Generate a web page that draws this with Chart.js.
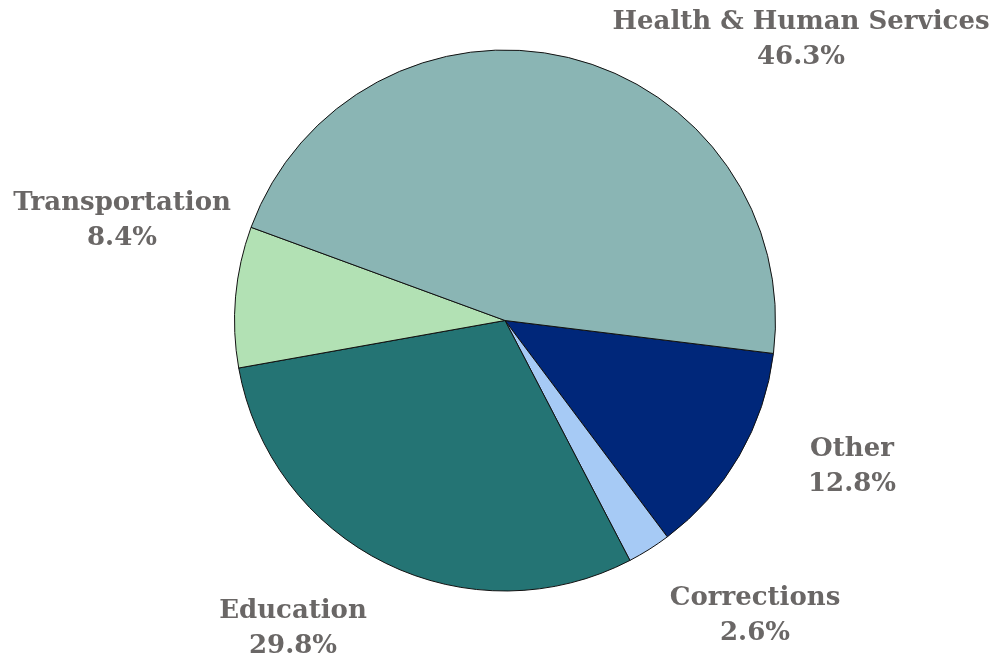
<!DOCTYPE html>
<html>
<head>
<meta charset="utf-8">
<script src="https://cdn.jsdelivr.net/npm/chart.js@4"></script>
<style>
  html, body { margin: 0; padding: 0; background: #fff; }
  #wrap { width: 996px; height: 660px; }
</style>
</head>
<body>
<div id="wrap"><canvas id="pieChart" width="996" height="660"></canvas></div>
<script>
// slices, clockwise starting just below 3 o'clock
const categories = ["Other", "Corrections", "Education", "Transportation", "Health & Human Services"];
const shares = [12.8, 2.6, 29.8, 8.4, 46.3];
const valueLabels = ["12.8%", "2.6%", "29.8%", "8.4%", "46.3%"];
const sliceColors = ["#00277a", "#a6caf5", "#247474", "#b2e1b4", "#8ab5b4"];

// where each label block sits (centre x, middle of first line)
const labelAnchors = [
    { x: 852, y: 449 },
    { x: 755, y: 598 },
    { x: 293, y: 611 },
    { x: 122, y: 203 },
    { x: 801, y: 22 }
];

const outsideLabels = {
    id: "outsideLabels",
    afterDraw(chart) {
        const ctx = chart.ctx;
        ctx.save();
        ctx.fillStyle = "#6a6766";
        ctx.font = "bold 26px 'DejaVu Serif', Georgia, serif";
        ctx.textAlign = "center";
        ctx.textBaseline = "middle";
        categories.forEach((name, i) => {
            const a = labelAnchors[i];
            ctx.fillText(name, a.x, a.y);
            ctx.fillText(valueLabels[i], a.x, a.y + 35);
        });
        ctx.restore();
    }
};

document.addEventListener("DOMContentLoaded", function () {
    const ctx = document.getElementById("pieChart").getContext("2d");

    new Chart(ctx, {
        type: "pie",
        data: {
            labels: categories,
            datasets: [{
                data: shares,
                backgroundColor: sliceColors,
                borderColor: "#111",
                borderWidth: 1
            }]
        },
        options: {
            responsive: false,
            animation: false,
            devicePixelRatio: 1,
            rotation: 97,
            layout: { padding: { left: 234, right: 220, top: 49, bottom: 68 } },
            plugins: {
                legend: { display: false },
                tooltip: { enabled: false }
            }
        },
        plugins: [outsideLabels]
    });
});
</script>
</body>
</html>
